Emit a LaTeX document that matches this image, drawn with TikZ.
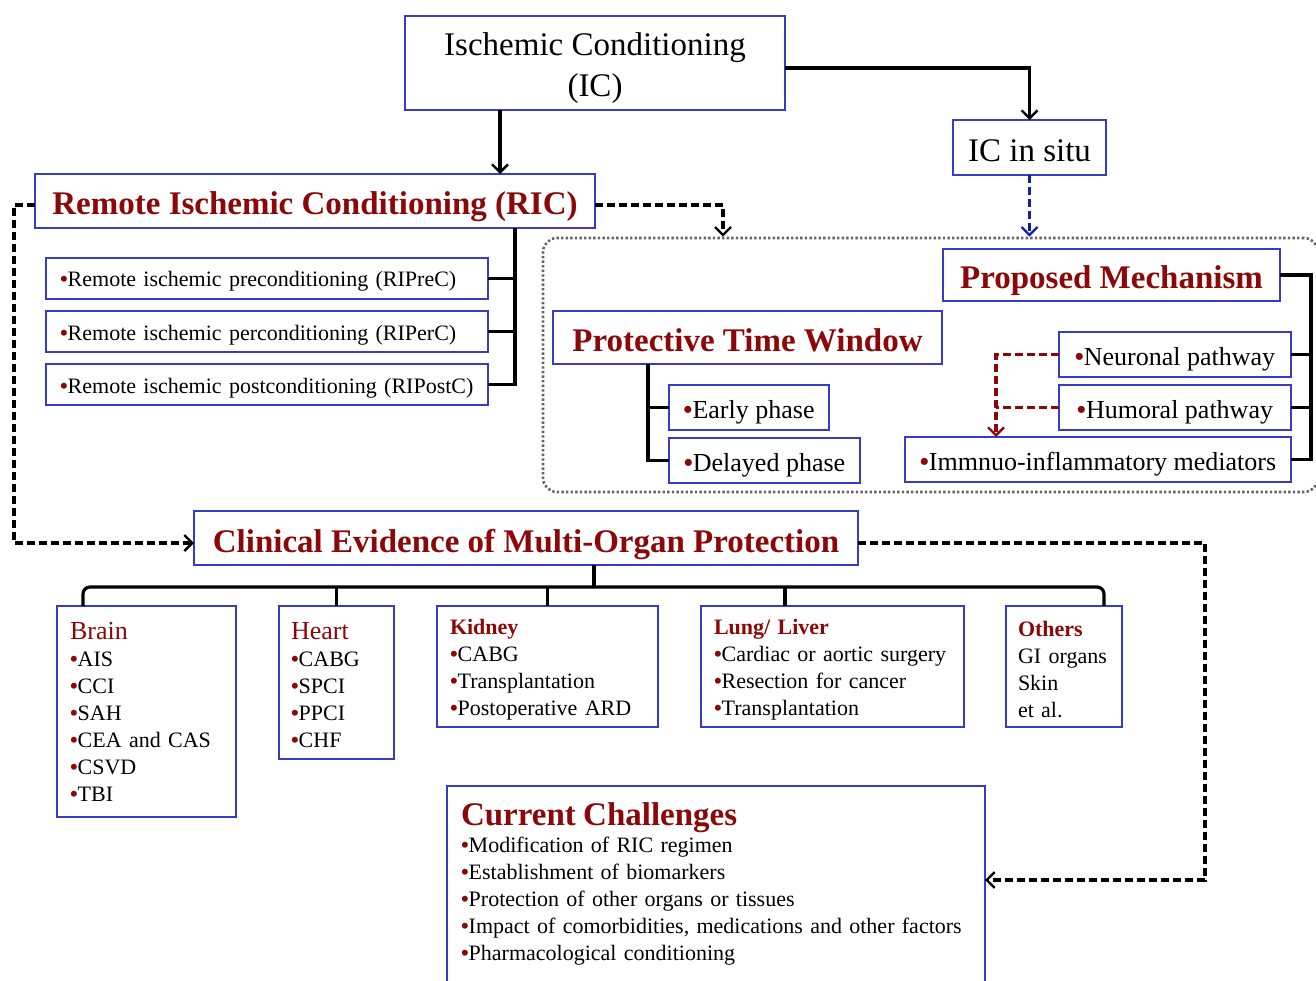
\documentclass[tikz,border=0pt]{standalone}
\usepackage{fontspec}
\setmainfont{Liberation Serif}
\usetikzlibrary{arrows.meta}
\definecolor{dred}{RGB}{140,8,8}
\definecolor{bblue}{RGB}{55,60,200}
\definecolor{dblue}{RGB}{20,30,170}
\newcommand{\fsz}[1]{\fontsize{#1}{27}\selectfont}
\newcommand{\redbullet}{\textcolor{dred}{\textbf{•}}}
\begin{document}
\begin{tikzpicture}[x=1pt,y=-1pt,
  box/.style={draw=bblue, line width=1.4pt, inner sep=0pt, outer sep=0pt, fill=white},
  ttl/.style={font=\fsz{33}\bfseries, text=dred, text height=28pt, text depth=0pt},
  big/.style={font=\fontsize{33}{41}\selectfont, align=center},
  bigone/.style={font=\fsz{33}, text height=28pt, text depth=0pt},
  mid/.style={font=\fsz{26}, text height=21pt, text depth=0pt},
  sml/.style={font=\fsz{22}, text height=17pt, text depth=0pt},
  organ/.style={box, anchor=north, align=left, font=\fsz{22}},
  conn/.style={line width=3.2pt, black},
  tip/.style={-{Straight Barb[length=8pt,width=16pt,line width=2.4pt]}},
  dsh/.style={conn, dash pattern=on 8pt off 4pt},
]
\useasboundingbox (0,0) rectangle (1316,981);
% dotted container
\node[draw=black!60, line width=2.6pt, dash pattern=on 2.4pt off 2.2pt, rounded corners=14pt,
      minimum width=775pt, minimum height=254pt, inner sep=0pt] (dots) at (930.5,365) {};
% top
\node[box, big, minimum width=380pt, minimum height=94pt] (IC) at (595,63) {\rule{0pt}{33pt}Ischemic Conditioning\\(IC)};
\node[box, bigone, minimum width=153pt, minimum height=55pt] (situ) at (1029.5,147.5) {IC in situ};
\node[box, ttl, minimum width=560pt, minimum height=54pt] (RIC) at (315,201) {Remote Ischemic Conditioning (RIC)};
% RIC sub
\node[box, sml, minimum width=442pt, minimum height=41pt, text width=414pt, align=left] (pre) at (267,278.5) {\redbullet Remote ischemic preconditioning (RIPreC)};
\node[box, sml, minimum width=442pt, minimum height=41pt, text width=414pt, align=left] (per) at (267,331.5) {\redbullet Remote ischemic perconditioning (RIPerC)};
\node[box, sml, minimum width=442pt, minimum height=41pt, text width=414pt, align=left] (post) at (267,384.5) {\redbullet Remote ischemic postconditioning (RIPostC)};
% mechanism part
\node[box, ttl, minimum width=337pt, minimum height=52pt] (mech) at (1111.5,275) {Proposed Mechanism};
\node[box, ttl, minimum width=389pt, minimum height=53pt] (ptw) at (747.5,337.5) {Protective Time Window};
\node[box, mid, minimum width=160pt, minimum height=45pt] (early) at (749,407.5) {\redbullet Early phase};
\node[box, mid, minimum width=191pt, minimum height=45pt] (delayed) at (764.5,460.5) {\redbullet Delayed phase};
\node[box, mid, minimum width=232pt, minimum height=45pt] (neuro) at (1175,354.5) {\redbullet Neuronal pathway};
\node[box, mid, minimum width=232pt, minimum height=45pt] (humoral) at (1175,407.5) {\redbullet Humoral pathway};
\node[box, mid, minimum width=386pt, minimum height=45pt] (immuno) at (1098,459.5) {\redbullet Immnuo-inflammatory mediators};
% clinical
\node[box, ttl, minimum width=664pt, minimum height=54pt] (clin) at (526,538) {Clinical Evidence of Multi-Organ Protection};
\node[organ, minimum width=179pt, minimum height=211pt, text width=153pt] (brain) at (146.5,606) {{\fontsize{26}{27}\selectfont\color{dred}Brain}\\\redbullet AIS\\\redbullet CCI\\\redbullet SAH\\\redbullet CEA and CAS\\\redbullet CSVD\\\redbullet TBI};
\node[organ, minimum width=115pt, minimum height=153pt, text width=91pt] (heart) at (336.5,606) {\rule{0pt}{22pt}{\fontsize{26}{27}\selectfont\color{dred}Heart}\\\redbullet CABG\\\redbullet SPCI\\\redbullet PPCI\\\redbullet CHF};
\node[organ, minimum width=221pt, minimum height=121pt, text width=195pt] (kidney) at (547.5,606) {\rule{0pt}{21pt}{\bfseries\color{dred}Kidney}\\\redbullet CABG\\\redbullet Transplantation\\\redbullet Postoperative ARD};
\node[organ, minimum width=263pt, minimum height=121pt, text width=237pt] (lung) at (832.5,606) {\rule{0pt}{21pt}{\bfseries\color{dred}Lung/ Liver}\\\redbullet Cardiac or aortic surgery\\\redbullet Resection for cancer\\\redbullet Transplantation};
\node[organ, minimum width=116pt, minimum height=121pt, text width=92pt] (others) at (1064,606) {\rule{0pt}{21pt}{\bfseries\color{dred}Others}\\\mbox{GI organs}\\Skin\\et al.};
\node[organ, minimum width=538pt, inner xsep=0pt, inner ysep=17pt, text width=510pt] (chal) at (716,786) {{\fontsize{33}{27}\selectfont\bfseries\color{dred}Current Challenges}\\\redbullet Modification of RIC regimen\\\redbullet Establishment of biomarkers\\\redbullet Protection of other organs or tissues\\\redbullet Impact of comorbidities, medications and other factors\\\redbullet Pharmacological conditioning\rule[-40pt]{0pt}{0pt}};
% coordinates
\coordinate (icx) at (500,0);
\coordinate (rt) at (515,228);
\coordinate (pt) at (648,364);
\coordinate (mt) at (1311,275);
\coordinate (rd) at (996,0);
\coordinate (dx) at (723,0);
\coordinate (lft) at (14,205);
\coordinate (rgt) at (1205,543);
\coordinate (ca) at (0,880);
\coordinate (cj) at (594,587);
\coordinate (bx) at (83,587);
\coordinate (lx) at (785,587);
\coordinate (ox) at (1104,587);
% connectors
\draw[conn, tip] (IC.south -| icx) -- (RIC.north -| icx);
\draw[conn, tip] ([yshift=-5pt]IC.east) -| (situ.north);
\draw[dsh, dblue, tip] (situ.south) -- (situ.south |- dots.north);
\draw[dsh, tip] ([yshift=-4pt]RIC.east) -| (dots.north -| dx);
\draw[dsh, tip] ([yshift=-4pt]RIC.west) -- (lft) |- ([yshift=-5pt]clin.west);
\draw[dsh, tip] ([yshift=-5pt]clin.east) -- (rgt) |- (chal.east |- ca);
% RIC tree
\draw[conn] (RIC.south -| rt) |- (post.east);
\draw[conn] (pre.east) -- (pre.east -| rt);
\draw[conn] (per.east) -- (per.east -| rt);
% PTW tree
\draw[conn] (pt) |- (delayed.west);
\draw[conn] (early.west) -- (early.west -| pt);
% mechanism tree
\draw[conn] (mech.east) -- (mt) |- (immuno.east);
\draw[conn] (neuro.east) -- (neuro.east -| mt);
\draw[conn] (humoral.east) -- (humoral.east -| mt);
% red dashed
\draw[dsh, dred, tip] (neuro.west) -| (immuno.north -| rd);
\draw[dsh, dred] (humoral.west) -- (humoral.west -| rd);
% clinical tree
\draw[conn] (clin.south -| cj) -- (cj);
\draw[conn, rounded corners=7pt] (brain.north -| bx) -- (bx) -- (ox) -- (others.north -| ox);
\draw[conn] (heart.north) -- (heart.north |- bx);
\draw[conn] (kidney.north) -- (kidney.north |- bx);
\draw[conn] (lung.north -| lx) -- (lx);
\end{tikzpicture}
\end{document}
